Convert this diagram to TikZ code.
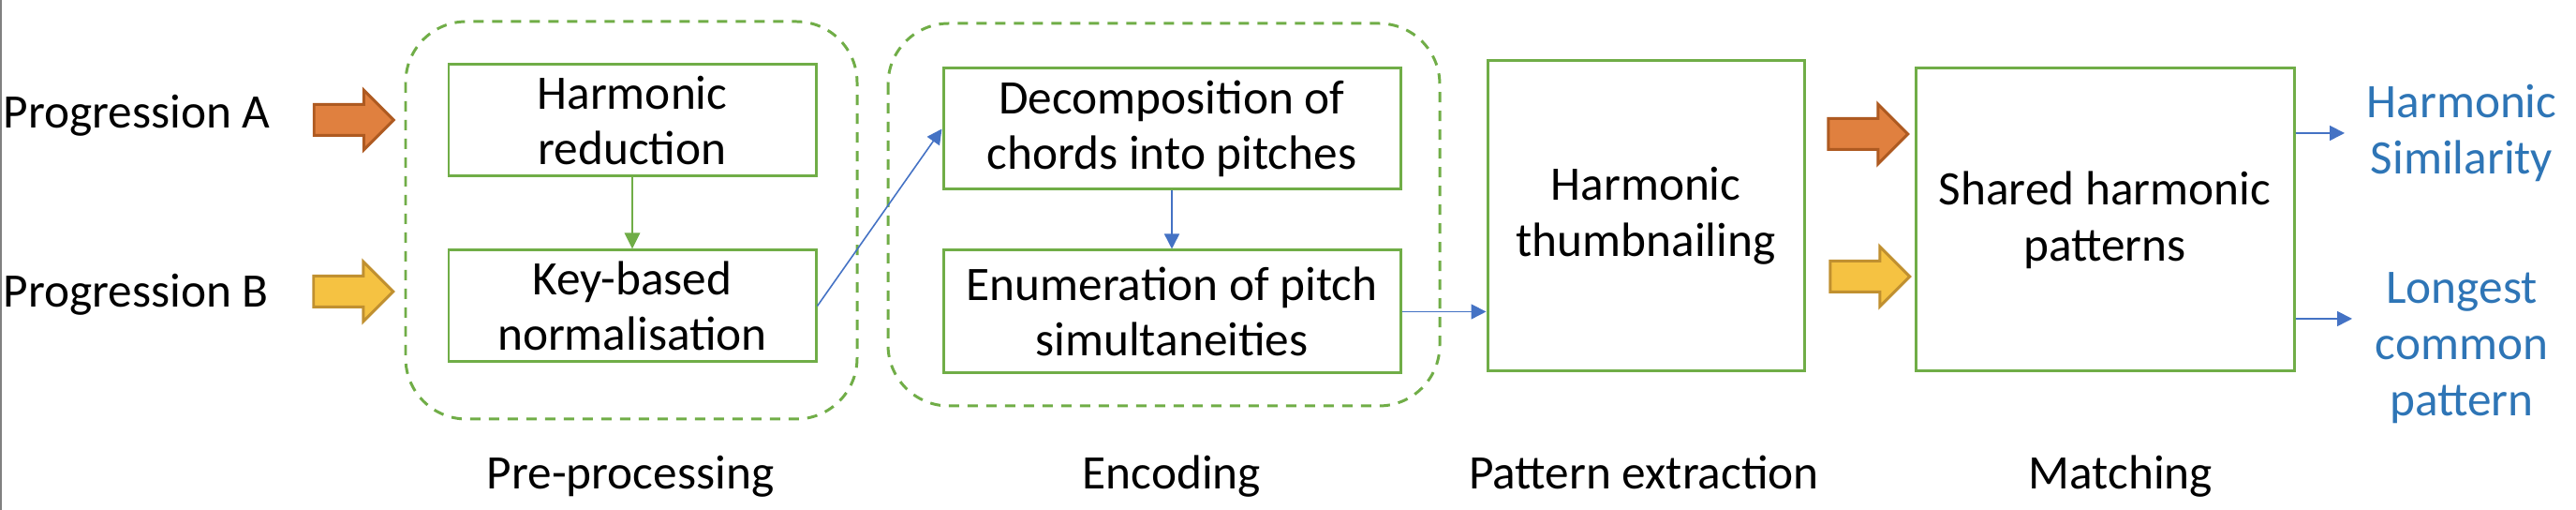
\documentclass[tikz,border=0pt]{standalone}
\usepackage{fontspec}
\setmainfont{Carlito}
\usetikzlibrary{arrows.meta,shapes.arrows,positioning}
\definecolor{grn}{HTML}{70AD47}
\definecolor{blu}{HTML}{4472C4}
\definecolor{txtblu}{HTML}{2E75B6}
\definecolor{orA}{HTML}{E0803F}
\definecolor{orAd}{HTML}{AE5A21}
\definecolor{yeB}{HTML}{F5C242}
\definecolor{yeBd}{HTML}{C09030}

\begin{document}
\begin{tikzpicture}[ -, node distance = 1cm, auto,
    font=\fontsize{14.6}{17}\selectfont,
    main/.style = {draw=grn, line width=0.85pt, align=center, inner sep=0pt},
    group/.style = {draw=grn, line width=0.85pt, dash pattern=on 0.11cm off 0.09cm, rounded corners=0.65cm},
    fatA/.style = {single arrow, minimum height=0.85cm, single arrow head extend=0.155cm,
                   inner xsep=0pt, inner ysep=0.15cm, line width=0.85pt, fill=orA, draw=orAd},
    fatB/.style = {fatA, fill=yeB, draw=yeBd},
    link/.style = {draw=blu, line width=0.45pt, -{Triangle[length=0.16cm,width=0.16cm]}},
    result/.style = {text=txtblu, align=center},
    phase/.style = {anchor=base}]
\useasboundingbox (0,0) rectangle (27.5,-5.44);
\draw[gray, line width=0.6pt] (0.01,0) -- (0.01,-5.44);
% inputs
\node[anchor=base west, inner sep=0pt] (pA) at (0.03,-1.37) {Progression A};
\node[anchor=base west, inner sep=0pt] (pB) at (0.03,-3.28) {Progression B};
\node[fatA] (aA) at (3.695,-1.28) {};
\node[fatB] (aB) at (3.69,-3.11) {};
% groups
\draw[group] (4.33,-0.23) rectangle (9.15,-4.47);
\draw[group] (9.48,-0.25) rectangle (15.37,-4.33);
% stages
\node[main, minimum width=3.92cm, minimum height=1.19cm] (harm) at (6.75,-1.285) {Harmonic\\reduction};
\node[main, minimum width=3.92cm, minimum height=1.19cm, below=0.76cm of harm] (key) {Key-based\\normalisation};
\node[main, minimum width=4.88cm, minimum height=1.29cm] (dec) at (12.51,-1.375) {Decomposition of\\chords into pitches};
\node[main, minimum width=4.88cm, minimum height=1.31cm, below=0.62cm of dec] (enum) {Enumeration of pitch\\simultaneities};
\node[main, minimum width=3.38cm, minimum height=3.31cm] (thumb) at (17.57,-2.305) {Harmonic\\thumbnailing};
\node[main, minimum width=4.04cm, minimum height=3.23cm] (shared) at (22.47,-2.345) {Shared harmonic\\patterns};
\node[fatA] (aA2) at (19.86,-1.43) {};
\node[fatB] (aB2) at (19.88,-2.95) {};
% outputs
\node[result] (sim) at (26.28,-1.42) {Harmonic\\Similarity};
\node[result] (lcp) at (26.28,-3.71) {Longest\\common\\pattern};
\coordinate (o1) at (25.03,-1.42);
\coordinate (o2) at (25.11,-3.40);
% phases
\node[phase] (ph1) at (6.73,-5.22) {Pre-processing};
\node[phase] (ph2) at (12.51,-5.22) {Encoding};
\node[phase] (ph3) at (17.55,-5.22) {Pattern extraction};
\node[phase] (ph4) at (22.64,-5.22) {Matching};
% links
\draw[draw=grn, line width=0.85pt, -{Triangle[length=0.17cm,width=0.16cm]}] (harm) -- (key);
\draw[link] (key.east) -- (dec.west);
\draw[link] (dec) -- (enum);
\draw[link] (enum.east) -- (enum.east -| thumb.west);
\draw[link] (shared.east |- o1) -- (o1);
\draw[link] (shared.east |- o2) -- (o2);
\end{tikzpicture}
\end{document}
